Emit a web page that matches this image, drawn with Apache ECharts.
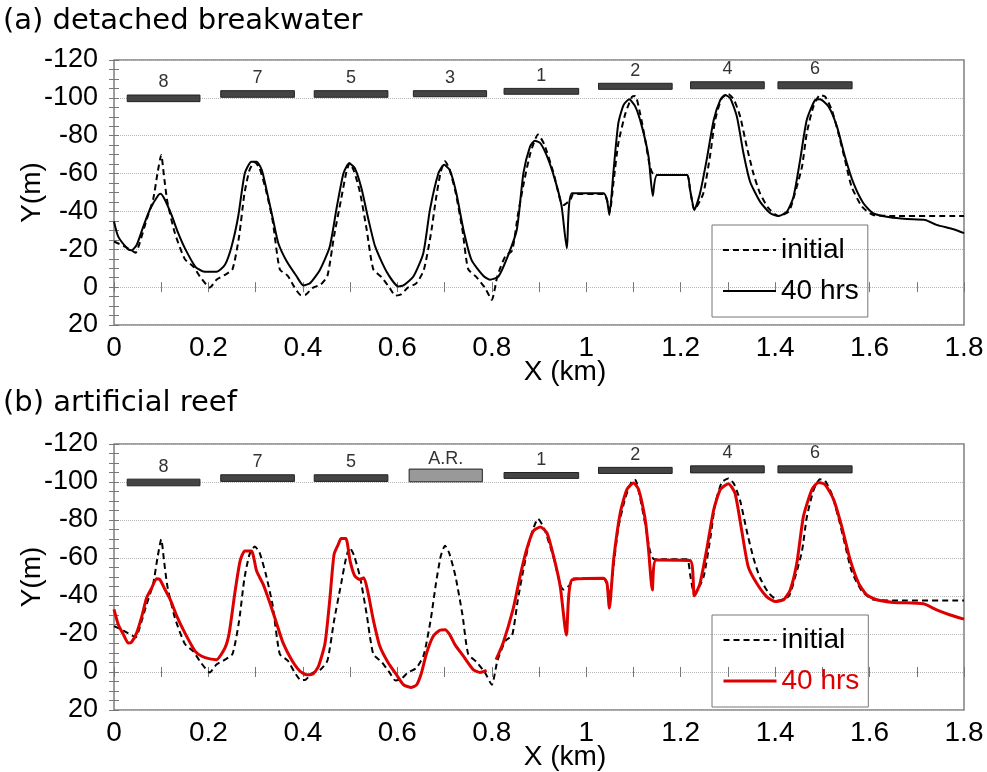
<!DOCTYPE html>
<html>
<head>
<meta charset="utf-8">
<script src="https://cdn.jsdelivr.net/npm/echarts@6/dist/echarts.min.js"></script>
<style>
  html, body { margin: 0; padding: 0; background: #fff; }
  #chart { width: 987px; height: 772px; }
</style>
</head>
<body>
<div id="chart"></div>
<script>
// initial shoreline (same in both cases), X in km, Y in m
const initialShore = [
  [0, -24.1], [0.020, -21.8], [0.040, -19], [0.046, -18.2], [0.052, -21.5], [0.069, -35.5], [0.083, -46.5],
  [0.092, -60], [0.100, -69.8], [0.106, -58.4], [0.113, -45.2], [0.129, -28.5], [0.150, -14.8], [0.168, -10.9],
  [0.182, -5.6], [0.203, 0.2], [0.217, -3.9], [0.235, -6.5], [0.251, -9.5], [0.265, -27], [0.276, -49],
  [0.287, -61.9], [0.298, -66], [0.308, -63], [0.322, -51], [0.336, -35], [0.351, -9.5], [0.368, -6],
  [0.382, 0], [0.396, 4.3], [0.406, 4], [0.420, 0.5], [0.438, -1.5], [0.452, -6], [0.466, -27], [0.481, -46.5],
  [0.491, -59.5], [0.499, -65.5], [0.508, -61.5], [0.521, -50], [0.535, -30.5], [0.549, -9.5], [0.567, -5.2],
  [0.584, 0.5], [0.596, 4.5], [0.608, 3.8], [0.622, 0.3], [0.640, -2], [0.656, -9], [0.671, -28], [0.682, -47],
  [0.692, -61], [0.701, -66.5], [0.710, -62.5], [0.723, -50.5], [0.738, -30], [0.750, -9.5], [0.768, -5.2],
  [0.786, 0.5], [0.800, 6.7], [0.812, -6], [0.829, -16.5], [0.843, -19.2], [0.855, -37.7], [0.868, -55.3],
  [0.882, -71], [0.898, -80.6], [0.911, -75.5], [0.931, -60.1], [0.945, -46], [0.952, -43.4], [0.966, -46],
  [0.973, -49.2], [1.037, -49.2], [1.044, -46], [1.050, -40], [1.058, -56], [1.068, -76], [1.083, -91.8],
  [1.097, -100.6], [1.104, -101], [1.114, -91.8], [1.125, -77.7], [1.135, -63.7], [1.144, -59.3], [1.213, -59.3],
  [1.220, -51.3], [1.229, -41], [1.248, -49.6], [1.263, -70.7], [1.273, -88.3], [1.287, -99.8], [1.301, -101.9],
  [1.313, -98.9], [1.326, -90.1], [1.340, -74.2], [1.354, -60.1], [1.368, -49.6], [1.386, -41.7], [1.407, -37.6],
  [1.429, -39.9], [1.442, -49.6], [1.457, -63.7], [1.467, -81.3], [1.481, -95.4], [1.495, -101.5], [1.506, -100.6],
  [1.520, -93.6], [1.534, -81.3], [1.548, -67.2], [1.562, -53.1], [1.584, -42.5], [1.608, -38.1], [1.658, -37.6],
  [1.800, -37.6]
]

// (a) detached breakwater, after 40 hrs
const breakwaterShore = [
  [0, -34.7], [0.009, -26.7], [0.030, -20], [0.037, -19.5], [0.048, -22.3], [0.062, -32], [0.076, -41],
  [0.094, -48.7], [0.099, -49.3], [0.108, -46], [0.122, -38], [0.136, -28.5], [0.150, -20.6], [0.172, -10.9],
  [0.189, -8.3], [0.217, -8.1], [0.235, -11.8], [0.249, -21.5], [0.263, -37.3], [0.277, -60.2], [0.291, -66.3],
  [0.302, -66.3], [0.313, -61.9], [0.323, -51.4], [0.337, -35.5], [0.348, -23.2], [0.366, -13.5], [0.387, -5.6],
  [0.401, -0.9], [0.415, -2.1], [0.436, -9.1], [0.457, -21.5], [0.472, -42.6], [0.486, -60.2], [0.498, -65.4],
  [0.510, -62.8], [0.524, -52.2], [0.539, -35.5], [0.553, -21.5], [0.577, -8.3], [0.602, -0.4], [0.613, -0.9],
  [0.634, -5.6], [0.655, -17.9], [0.669, -40.8], [0.687, -60.2], [0.699, -64.6], [0.711, -61.9], [0.725, -49.6],
  [0.740, -30.3], [0.757, -14.4], [0.782, -6], [0.796, -3.9], [0.814, -5.6], [0.835, -17.1], [0.853, -30.3],
  [0.867, -60.2], [0.881, -74.2], [0.891, -77.4], [0.903, -76], [0.920, -67.2], [0.938, -53.1], [0.948, -42.5],
  [0.959, -20.5], [0.970, -49.6], [1.037, -49.6], [1.044, -46], [1.049, -38.1], [1.058, -61.9], [1.068, -86.6],
  [1.079, -96.2], [1.091, -99.2], [1.104, -95.4], [1.118, -84.8], [1.132, -68.9], [1.141, -48.2], [1.150, -59.3],
  [1.213, -59.3], [1.220, -51.3], [1.229, -40.8], [1.241, -49.6], [1.255, -67.2], [1.270, -88.3], [1.284, -98.9],
  [1.294, -101.5], [1.305, -99.8], [1.319, -90.1], [1.333, -70.7], [1.347, -55.7], [1.368, -45.2], [1.390, -39],
  [1.407, -37.6], [1.425, -39.9], [1.439, -47.8], [1.453, -67.2], [1.467, -88.3], [1.485, -98.9], [1.495, -99.2],
  [1.513, -95.4], [1.531, -84.8], [1.548, -68.9], [1.566, -54.9], [1.587, -44.3], [1.608, -39], [1.643, -36.9],
  [1.679, -36], [1.718, -35.5], [1.742, -32.9], [1.778, -30.6], [1.800, -28.5]
]

// (b) artificial reef, after 40 hrs (null = gap in the line)
const reefShore = [
  [0, -32.9], [0.009, -25], [0.020, -19.7], [0.030, -15.3], [0.037, -15.7], [0.048, -20.6], [0.059, -29.4],
  [0.069, -39], [0.080, -44.3], [0.090, -49.1], [0.097, -48.7], [0.108, -43.4], [0.119, -38.2], [0.133, -29.4],
  [0.150, -20.6], [0.172, -10.9], [0.186, -8.3], [0.203, -6.9], [0.217, -6.5], [0.235, -12.7], [0.244, -20.6],
  [0.256, -41.7], [0.267, -58.4], [0.277, -63.7], [0.291, -63.7], [0.302, -53.1], [0.316, -46.1], [0.330, -36.4],
  [0.344, -25.9], [0.358, -15.3], [0.376, -6.5], [0.394, -0.4], [0.408, 1.4], [0.422, 0.9], [0.433, -3],
  [0.447, -15.3], [0.457, -38.2], [0.466, -61.9], [0.475, -67.2], [0.481, -70.2], [0.491, -70.2], [0.500, -58.4],
  [0.510, -50.5], [0.521, -48.7], [0.529, -49.6], [0.538, -41.7], [0.549, -27.6], [0.563, -13.5], [0.581, -4.7],
  [0.598, 1.4], [0.613, 6.7], [0.630, 8.1], [0.641, 6.7], [0.651, 0.5], [0.662, -10], [0.676, -18.8],
  [0.690, -22], [0.701, -22.3], [0.711, -19.7], [0.722, -14.4], [0.740, -8.3], [0.761, -1.2], [0.775, 0.2],
  [0.789, -0.9], [0.800, null], [0.809, -6.5], [0.824, -15.3], [0.845, -32.9], [0.860, -50.5], [0.874, -64.6],
  [0.888, -74.2], [0.903, -76.3], [0.917, -73.1], [0.931, -60.8], [0.945, -45], [0.958, -19.5], [0.970, -48.5],
  [1.037, -49.4], [1.044, -46.7], [1.049, -33.6], [1.058, -59], [1.072, -83.7], [1.086, -96], [1.100, -99.5],
  [1.111, -96], [1.125, -80.1], [1.132, -64.3], [1.140, -43.2], [1.148, -59], [1.220, -58.7], [1.229, -40.1],
  [1.241, -46.7], [1.255, -64.3], [1.270, -85.4], [1.284, -96], [1.301, -99.1], [1.315, -94.2], [1.329, -74.9],
  [1.343, -55.5], [1.361, -46.7], [1.382, -39.7], [1.400, -37.1], [1.418, -38], [1.432, -43.2], [1.446, -57.3],
  [1.460, -81.9], [1.478, -96], [1.492, -99.8], [1.506, -98.6], [1.524, -90.7], [1.541, -76.6], [1.559, -59],
  [1.577, -46.7], [1.594, -40.6], [1.615, -38], [1.651, -36.6], [1.714, -35.9], [1.742, -32.7], [1.771, -30],
  [1.800, -27.8]
]

// structures: x from/to (km), seaward / shoreward edge (m)
const bwLabels = ['8', '7', '5', '3', '1', '2', '4', '6']
const bwStart = [0.028, 0.226, 0.424, 0.634, 0.826, 1.026, 1.221, 1.406]
const bwEnd = [0.182, 0.382, 0.580, 0.789, 0.984, 1.182, 1.377, 1.563]
const bwSea = [-101.5, -103.8, -103.8, -103.8, -105.0, -107.7, -108.5, -108.5]
const bwShore = [-98, -100.3, -100.3, -100.6, -101.9, -104.5, -104.8, -104.8]

// in (b) structure 3 is replaced by the artificial reef
const reefIndex = 3
const reefLabel = 'A.R.'
const reefBox = [0.625, 0.780, -106.8, -100.1]

const FONT = 'Liberation Sans, Arial, sans-serif'
const TITLE_FONT = 'DejaVu Sans, sans-serif'
const RED = '#dd0000'

const topBars = bwStart.map((s, i) => [s, bwEnd[i], bwSea[i], bwShore[i]])
const bottomBars = topBars.map((b, i) => (i === reefIndex ? reefBox : b))
const bottomLabels = bwLabels.map((l, i) => (i === reefIndex ? reefLabel : l))

const makeBars = (labels, reefAt) => (params, api) => {
  const a = api.coord([api.value(0), api.value(2)])
  const b = api.coord([api.value(1), api.value(3)])
  const i = params.dataIndex
  const isReef = i === reefAt
  return {
    type: 'rect',
    shape: {
      x: a[0],
      y: Math.min(a[1], b[1]),
      width: b[0] - a[0],
      height: Math.abs(b[1] - a[1])
    },
    style: { fill: isReef ? '#999' : '#444', stroke: '#222', lineWidth: 1 },
    textContent: {
      style: { text: labels[i], fontSize: 18, fill: '#333', fontFamily: FONT }
    },
    textConfig: { position: 'top', distance: isReef ? 1 : 3 }
  }
}

const grids = [
  { left: 114, top: 60, width: 850, height: 265 },
  { left: 114, top: 444, width: 850, height: 266 }
]

const tickStyle = { color: '#777', width: 1 }

const xAxes = []
const yAxes = []
grids.forEach((g, gi) => {
  const base = {
    gridIndex: gi,
    type: 'value',
    min: 0,
    max: 1.8,
    interval: 0.2,
    axisLine: { show: false },
    axisTick: { show: true, inside: true, length: 5, lineStyle: tickStyle },
    minorTick: { show: true, splitNumber: 2, length: 5, lineStyle: tickStyle },
    splitLine: { show: false }
  }
  xAxes.push({
    ...base,
    position: 'bottom',
    name: 'X (km)',
    nameLocation: 'middle',
    nameGap: 33,
    nameMoveOverlap: false,
    nameTextStyle: { fontSize: 28, color: '#000', fontFamily: FONT, padding: [0, 0, 0, 52] },
    axisLabel: { fontSize: 28, color: '#000', margin: 9, fontFamily: FONT }
  })
  xAxes.push({ ...base, position: 'top', axisLabel: { show: false } })

  const ybase = {
    gridIndex: gi,
    type: 'value',
    min: -120,
    max: 20,
    interval: 20,
    inverse: true,
    axisLine: { show: false },
    axisTick: { show: true, inside: true, length: 5, lineStyle: tickStyle },
    minorTick: { show: true, splitNumber: 4, length: 5, lineStyle: tickStyle }
  }
  yAxes.push({
    ...ybase,
    position: 'left',
    name: 'Y(m)',
    nameLocation: 'middle',
    nameGap: 68,
    nameMoveOverlap: false,
    nameTextStyle: { fontSize: 28, color: '#000', fontFamily: FONT },
    axisLabel: { fontSize: 27, color: '#000', margin: 16, fontFamily: FONT },
    splitLine: { show: true, lineStyle: { type: 'dotted', color: '#b5b5b5', width: 1 } }
  })
  yAxes.push({ ...ybase, position: 'right', axisLabel: { show: false }, splitLine: { show: false } })
})

const lineSeries = (name, data, ax, color, width, dashed) => ({
  name,
  type: 'line',
  xAxisIndex: ax * 2,
  yAxisIndex: ax * 2,
  data,
  symbol: 'none',
  smooth: 0.2,
  connectNulls: false,
  animation: false,
  lineStyle: { color, width, type: dashed ? [6, 4] : 'solid' },
  itemStyle: { color },
  z: dashed ? 3 : 4
})

const legendBase = {
  orient: 'vertical',
  left: 712,
  padding: [11, 9, 12, 10],
  itemGap: 13,
  itemWidth: 53,
  itemHeight: 14,
  borderColor: '#777',
  borderWidth: 1,
  selectedMode: false,
  itemStyle: { opacity: 0 },
  textStyle: { fontSize: 28, color: '#000', fontFamily: FONT }
}

const option = {
  backgroundColor: '#fff',
  animation: false,
  title: [
    { text: '(a) detached breakwater', left: 3, top: 7, padding: 0,
      textStyle: { fontSize: 29, fontWeight: 'normal', color: '#000', fontFamily: TITLE_FONT } },
    { text: '(b) artificial reef', left: 3, top: 389, padding: 0,
      textStyle: { fontSize: 29, fontWeight: 'normal', color: '#000', fontFamily: TITLE_FONT } }
  ],
  legend: [
    { ...legendBase, top: 225, data: ['initial', '40 hrs'] },
    {
      ...legendBase,
      top: 615,
      data: [
        'initial',
        { name: '40 hrs', textStyle: { color: RED }, lineStyle: { color: RED, width: 3 } }
      ]
    }
  ],
  grid: grids.map(g => ({
    ...g,
    outerBoundsMode: 'none',
    show: true,
    borderColor: '#808080',
    borderWidth: 1.5,
    backgroundColor: 'transparent'
  })),
  xAxis: xAxes,
  yAxis: yAxes,
  series: [
    lineSeries('initial', initialShore, 0, '#000', 2, true),
    lineSeries('40 hrs', breakwaterShore, 0, '#000', 2, false),
    {
      type: 'custom',
      xAxisIndex: 0,
      yAxisIndex: 0,
      data: topBars,
      encode: { x: [0, 1], y: [2, 3] },
      renderItem: makeBars(bwLabels, -1),
      clip: false,
      z: 5
    },
    lineSeries('initial', initialShore, 1, '#000', 2, true),
    lineSeries('40 hrs', reefShore, 1, RED, 3, false),
    {
      type: 'custom',
      xAxisIndex: 2,
      yAxisIndex: 2,
      data: bottomBars,
      encode: { x: [0, 1], y: [2, 3] },
      renderItem: makeBars(bottomLabels, reefIndex),
      clip: false,
      z: 5
    }
  ]
}

const chart = echarts.init(document.getElementById('chart'))
chart.setOption(option)
</script>
</body>
</html>
